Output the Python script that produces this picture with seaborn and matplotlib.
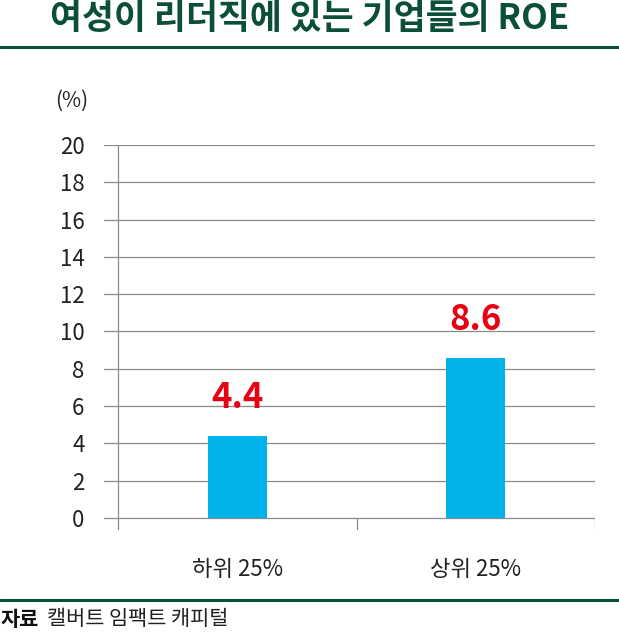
import matplotlib
matplotlib.use("Agg")
import matplotlib.pyplot as plt
import seaborn as sns
import pandas as pd

categories = ["하위 25%", "상위 25%"]
roe_values = [4.4, 8.6]
value_labels = ["4.4", "8.6"]
y_ticks = [0, 2, 4, 6, 8, 10, 12, 14, 16, 18, 20]

sns.set_theme(style="white")
plt.rcParams['font.family'] = ['Noto Sans CJK KR', 'DejaVu Sans']

GREEN = "#0b4f36"
GRID = "#8a8a8a"

fig = plt.figure(figsize=(6.19, 6.33), dpi=100)
ax = fig.add_axes([104/619, 103/633, 491/619, 385/633])

df = pd.DataFrame({"cat": categories, "roe": roe_values})
sns.barplot(data=df, x="cat", y="roe", color="#00b2e9", width=59/238.5,
            saturation=1, linewidth=0, ax=ax, zorder=3)

ax.set_xlim(-0.5 - 14/238.5, 1.5)
ax.set_ylim(-0.645, 20)
for s in ax.spines.values():
    s.set_visible(False)
for t in y_ticks:
    ax.axhline(t, color=GRID, lw=0.9, zorder=1)
ax.vlines([-0.5], -0.645, 20, color=GRID, lw=0.9, zorder=2)
ax.vlines([0.5, 1.5], -0.645, 0, color=GRID, lw=0.9, zorder=2)

ax.set_yticks(y_ticks)
ax.set_yticklabels([str(t) for t in y_ticks], fontsize=16, color="#222222")
ax.tick_params(axis="y", length=0, pad=14)
ax.tick_params(axis="x", length=0, pad=20, labelsize=16, labelcolor="#222222")
ax.set_xlabel("")
ax.set_ylabel("")

for i, (v, lab) in enumerate(zip(roe_values, value_labels)):
    ax.text(i, v + 1.1, lab, ha="center", va="bottom", fontsize=25,
            fontweight="bold", color="#e60012")

fig.text(0.5, 1 - 19/633, "여성이 리더직에 있는 기업들의 ROE", ha="center", va="center",
         fontsize=25, fontweight="bold", color=GREEN)
fig.text(88/619, 1 - 101/633, "(%)", ha="right", va="center", fontsize=15, color="#222222")

fig.add_artist(plt.Line2D([0, 1], [1 - 47/633, 1 - 47/633], color=GREEN, lw=2.2))
fig.add_artist(plt.Line2D([0, 1], [1 - 600/633, 1 - 600/633], color=GREEN, lw=2.2))

fig.text(1/619, 1 - 619/633, "자료", ha="left", va="center", fontsize=15,
         fontweight="bold", color="#111111")
fig.text(47/619, 1 - 619/633, "캘버트 임팩트 캐피털", ha="left", va="center", fontsize=15,
         color="#222222")

fig.savefig("out.png", dpi=100)
